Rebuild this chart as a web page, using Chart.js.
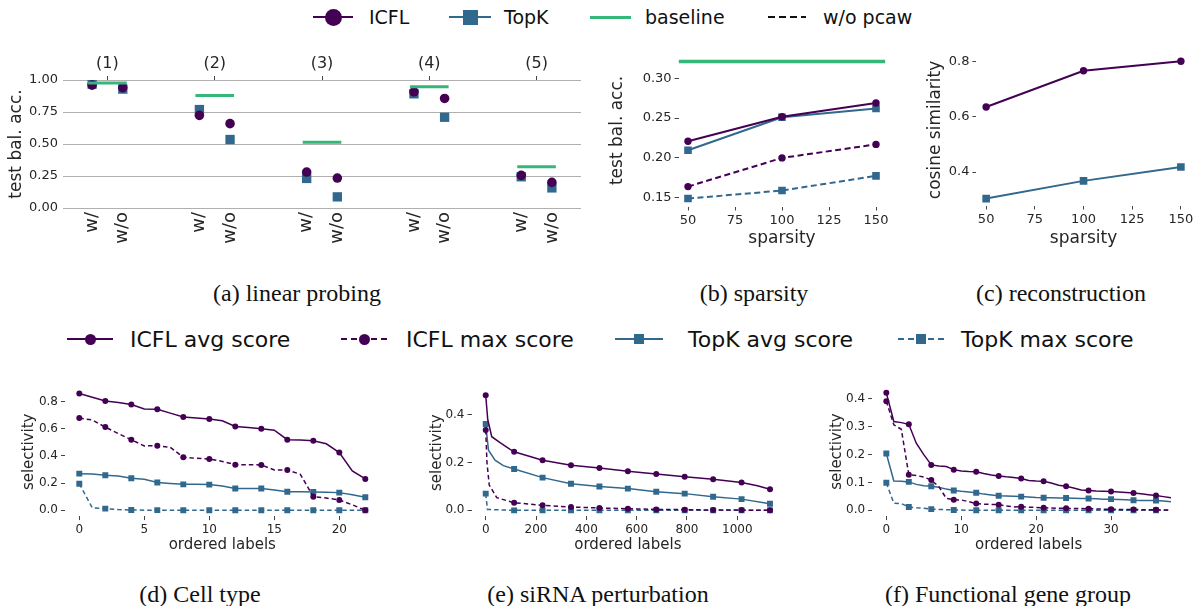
<!DOCTYPE html>
<html>
<head>
<meta charset="utf-8">
<script src="https://cdn.jsdelivr.net/npm/chart.js@4.4.1/dist/chart.umd.min.js"></script>
<style>
  body { margin: 0; background: #fff; width: 1196px; height: 606px; position: relative; overflow: hidden; font-family: "DejaVu Sans", sans-serif; color: #262626; }
  canvas { position: absolute; }
  .cap { position: absolute; font-family: "Liberation Serif", "Times New Roman", serif; font-size: 24px; color: #111; transform: translate(-50%, -50%); white-space: nowrap; }
  .lgtext { position: absolute; white-space: nowrap; transform: translateY(-50%); color: #111; }
  .lgline { position: absolute; }
  .lgmark { position: absolute; }
</style>
</head>
<body>
<canvas id="probeChart" width="600" height="220" style="left:0px;top:45px"></canvas>
<canvas id="sparsityChart" width="300" height="210" style="left:600px;top:40px"></canvas>
<canvas id="reconChart" width="296" height="210" style="left:900px;top:40px"></canvas>
<canvas id="cellChart" width="400" height="185" style="left:0px;top:375px"></canvas>
<canvas id="sirnaChart" width="400" height="185" style="left:400px;top:375px"></canvas>
<canvas id="geneChart" width="396" height="185" style="left:800px;top:375px"></canvas>

<div class="cap" style="left:297px;top:293px">(a) linear probing</div>
<div class="cap" style="left:754px;top:293px">(b) sparsity</div>
<div class="cap" style="left:1061px;top:293px">(c) reconstruction</div>
<div class="cap" style="left:200px;top:594px">(d) Cell type</div>
<div class="cap" style="left:598px;top:594px">(e) siRNA perturbation</div>
<div class="cap" style="left:1008px;top:594px">(f) Functional gene group</div>

<script>
const PURPLE = "#440154";
const BLUE = "#31688e";
const GREEN = "#35b779";
const TICK = "#262626";

// (a) linear probing
const probeGroups = ["(1)", "(2)", "(3)", "(4)", "(5)"];
const probeConds = ["w/", "w/o"];
const icflWith = [0.96, 0.724, 0.281, 0.908, 0.255];
const icflWithout = [0.94, 0.659, 0.234, 0.856, 0.2];
const topkWith = [0.968, 0.769, 0.231, 0.892, 0.244];
const topkWithout = [0.929, 0.535, 0.087, 0.709, 0.157];
const probeBaseline = [0.976, 0.879, 0.514, 0.947, 0.323];
const probeTicksY = [0, 0.25, 0.5, 0.75, 1.0];

// (b) sparsity
const sparsity = [50, 100, 150];
const sparsityTicks = [50, 75, 100, 125, 150];
const icflSparsity = [0.221, 0.2517, 0.269];
const topkSparsity = [0.2096, 0.251, 0.262];
const icflSparsityNoPcaw = [0.164, 0.2, 0.217];
const topkSparsityNoPcaw = [0.149, 0.159, 0.1775];
const sparsityBaseline = 0.321;
const sparsityTicksY = [0.15, 0.2, 0.25, 0.3];

// (c) reconstruction
const icflCosine = [0.635, 0.766, 0.8];
const topkCosine = [0.304, 0.368, 0.418];
const cosineTicksY = [0.4, 0.6, 0.8];

// (d) cell type, one value per ordered label 0..22
const cellIcflAvg = [0.861, 0.833, 0.805, 0.795, 0.78, 0.746, 0.744, 0.716, 0.687, 0.68, 0.672, 0.66, 0.618, 0.61, 0.601, 0.59, 0.52, 0.517, 0.513, 0.49, 0.425, 0.29, 0.231];
const cellIcflMax = [0.68, 0.665, 0.613, 0.565, 0.52, 0.474, 0.476, 0.464, 0.39, 0.383, 0.378, 0.36, 0.336, 0.336, 0.334, 0.297, 0.297, 0.265, 0.1, 0.09, 0.076, 0.04, 0.0];
const cellTopkAvg = [0.27, 0.268, 0.258, 0.252, 0.236, 0.228, 0.204, 0.198, 0.191, 0.191, 0.189, 0.178, 0.16, 0.16, 0.16, 0.15, 0.137, 0.137, 0.135, 0.133, 0.13, 0.115, 0.096];
const cellTopkMax = [0.196, 0.017, 0.012, 0.005, 0.002, 0.001, 0.001, 0.0, 0.0, 0.0, 0.0, 0.0, 0.0, 0.0, 0.0, 0.0, 0.0, 0.0, 0.0, 0.0, 0.0, 0.0, 0.0];
const cellTicksX = [0, 5, 10, 15, 20];
const cellTicksY = [0, 0.2, 0.4, 0.6, 0.8];

// (e) siRNA perturbation, read at selected ordered labels
const sirnaIcflAvgX = [0, 8, 24, 57, 97, 113, 226, 339, 452, 565, 678, 791, 904, 1017, 1080, 1130];
const sirnaIcflAvg = [0.482, 0.38, 0.308, 0.283, 0.255, 0.245, 0.21, 0.189, 0.177, 0.164, 0.152, 0.141, 0.13, 0.117, 0.103, 0.088];
const sirnaIcflMaxX = [0, 5, 14, 44, 113, 226, 339, 452, 565, 678, 791, 904, 1017, 1130];
const sirnaIcflMax = [0.336, 0.2, 0.106, 0.053, 0.032, 0.021, 0.014, 0.01, 0.007, 0.004, 0.003, 0.0015, 0.001, 0.0];
const sirnaTopkAvgX = [0, 4, 11, 37, 70, 113, 226, 339, 452, 565, 678, 791, 904, 1017, 1130];
const sirnaTopkAvg = [0.361, 0.32, 0.252, 0.21, 0.187, 0.173, 0.137, 0.111, 0.1, 0.091, 0.078, 0.07, 0.057, 0.047, 0.028];
const sirnaTopkMaxX = [0, 7, 113, 226, 339, 452, 565, 678, 791, 904, 1017, 1130];
const sirnaTopkMax = [0.07, 0.004, 0.0, 0.0, 0.0, 0.0, 0.0, 0.0, 0.0, 0.0, 0.0, 0.0];
const sirnaTicksX = [0, 200, 400, 600, 800, 1000];
const sirnaTicksY = [0, 0.2, 0.4];

// (f) functional gene group, one value per ordered label 0..38
const geneIcflAvg = [0.422, 0.319, 0.315, 0.309, 0.241, 0.2, 0.163, 0.159, 0.157, 0.146, 0.141, 0.139, 0.138, 0.132, 0.127, 0.123, 0.12, 0.118, 0.114, 0.107, 0.105, 0.104, 0.098, 0.09, 0.086, 0.08, 0.073, 0.071, 0.069, 0.068, 0.067, 0.066, 0.064, 0.062, 0.059, 0.056, 0.053, 0.049, 0.045];
const geneIcflMax = [0.392, 0.307, 0.291, 0.128, 0.125, 0.119, 0.109, 0.085, 0.043, 0.038, 0.037, 0.031, 0.024, 0.022, 0.021, 0.02, 0.015, 0.012, 0.0125, 0.011, 0.01, 0.009, 0.008, 0.007, 0.007, 0.006, 0.006, 0.005, 0.005, 0.004, 0.004, 0.003, 0.003, 0.003, 0.002, 0.002, 0.002, 0.001, 0.001];
const geneTopkAvg = [0.204, 0.105, 0.104, 0.102, 0.093, 0.088, 0.086, 0.083, 0.076, 0.071, 0.068, 0.066, 0.063, 0.058, 0.055, 0.052, 0.051, 0.05, 0.049, 0.048, 0.046, 0.045, 0.045, 0.044, 0.044, 0.043, 0.042, 0.042, 0.041, 0.04, 0.04, 0.039, 0.038, 0.036, 0.035, 0.035, 0.035, 0.033, 0.031];
const geneTopkMax = [0.099, 0.025, 0.024, 0.012, 0.009, 0.007, 0.004, 0.003, 0.002, 0.001, 0.001, 0.0, 0.0, 0.0, 0.0, 0.0, 0.0, 0.0, 0.0, 0.0, 0.0, 0.0, 0.0, 0.0, 0.0, 0.0, 0.0, 0.0, 0.0, 0.0, 0.0, 0.0, 0.0, 0.0, 0.0, 0.0, 0.0, 0.0, 0.0];
const geneTicksX = [0, 10, 20, 30];
const geneTicksY = [0, 0.1, 0.2, 0.3, 0.4];

Chart.defaults.font.family = "'DejaVu Sans', sans-serif";
Chart.defaults.color = TICK;
Chart.defaults.animation = false;

const fixWidth = (w) => (scale) => { scale.width = w; };
const fixHeight = (h) => (scale) => { scale.height = h; };
const useTicks = (vals) => (scale) => { scale.ticks = vals.map((v) => ({ value: v })); };

const basePlugins = { legend: { display: false }, tooltip: { enabled: false } };

// axis with small outside tick marks and no spine, matplotlib-like
const tickAxis = (opts) => ({
  type: "linear",
  position: opts.position,
  min: opts.min,
  max: opts.max,
  afterBuildTicks: useTicks(opts.ticks),
  afterFit: opts.position === "left" ? fixWidth(opts.size) : fixHeight(opts.size),
  border: { display: false },
  grid: { drawOnChartArea: false, drawTicks: true, tickLength: 4, tickColor: "#444", tickWidth: 1 },
  ticks: {
    autoSkip: false,
    maxRotation: 0,
    padding: opts.pad ?? 2,
    font: { size: opts.fontSize },
    color: TICK,
    callback: opts.fmt,
  },
  title: {
    display: true,
    text: opts.title,
    color: TICK,
    font: { size: opts.titleSize },
    padding: opts.position === "left" ? { top: opts.titlePad } : { bottom: opts.titlePad },
  },
});

// ---------- (a) linear probing ----------
const GROUP_STEP = 3.5;
const probePoints = (vals, offset) => vals.map((v, i) => ({ x: GROUP_STEP * i + offset, y: v }));
const baselinePoints = [];
probeBaseline.forEach((v, i) => {
  baselinePoints.push({ x: GROUP_STEP * i - 0.13, y: v });
  baselinePoints.push({ x: GROUP_STEP * i + 1.13, y: v });
  baselinePoints.push({ x: GROUP_STEP * i + 1.2, y: null });
});
const condPositions = [];
const condLabels = [];
probeGroups.forEach((g, i) => {
  probeConds.forEach((c, j) => {
    condPositions.push(GROUP_STEP * i + j);
    condLabels.push(c);
  });
});
const groupPositions = probeGroups.map((g, i) => GROUP_STEP * i + 0.5);

new Chart(document.getElementById("probeChart"), {
  type: "scatter",
  data: {
    datasets: [
      { label: "baseline", data: baselinePoints, showLine: true, spanGaps: false, borderColor: GREEN, borderWidth: 3, pointRadius: 0, order: 0 },
      { label: "ICFL", data: [...probePoints(icflWith, 0), ...probePoints(icflWithout, 1)], backgroundColor: PURPLE, borderWidth: 0, pointStyle: "circle", pointRadius: 4.8, order: 1 },
      { label: "TopK", data: [...probePoints(topkWith, 0), ...probePoints(topkWithout, 1)], backgroundColor: BLUE, borderWidth: 0, pointStyle: "rect", pointRadius: 6.6, order: 2 },
    ],
  },
  options: {
    responsive: false,
    layout: { padding: { top: 0, right: 19, bottom: 0, left: 0 } },
    plugins: basePlugins,
    scales: {
      x: {
        type: "linear",
        position: "bottom",
        min: -0.95,
        max: 15.95,
        afterBuildTicks: useTicks(condPositions),
        afterFit: fixHeight(57),
        border: { display: false },
        grid: { display: false, drawTicks: false },
        ticks: { autoSkip: false, minRotation: 90, maxRotation: 90, padding: 4, font: { size: 18 }, color: TICK, callback: (v, i) => condLabels[i] },
      },
      x2: {
        type: "linear",
        axis: "x",
        position: "top",
        min: -0.95,
        max: 15.95,
        afterBuildTicks: useTicks(groupPositions),
        afterFit: fixHeight(35),
        border: { display: false },
        grid: { drawOnChartArea: false, drawTicks: true, tickLength: 4, tickColor: "#444" },
        ticks: { autoSkip: false, maxRotation: 0, padding: 3, font: { size: 16 }, color: TICK, callback: (v, i) => probeGroups[i] },
      },
      y: {
        type: "linear",
        position: "left",
        min: 0,
        max: 1,
        afterBuildTicks: useTicks(probeTicksY),
        afterFit: fixWidth(63),
        border: { display: false },
        grid: { color: "#b0b0b0", lineWidth: 1, drawTicks: false },
        ticks: { padding: 5, font: { size: 13 }, color: TICK, callback: (v) => v.toFixed(2) },
        title: { display: true, text: "test bal. acc.", color: TICK, font: { size: 17 }, padding: { top: 6 } },
      },
    },
  },
});

// ---------- (b) sparsity ----------
const lineSet = (label, xs, ys, color, style, dashed, r, width) => ({
  label,
  data: ys.map((v, i) => ({ x: xs[i], y: v })),
  showLine: true,
  borderColor: color,
  backgroundColor: color,
  borderWidth: width,
  borderDash: dashed ? [6, 3.5] : [],
  pointStyle: style,
  pointRadius: style === "rect" ? r * 1.45 : r,
  pointBorderWidth: 0,
});

new Chart(document.getElementById("sparsityChart"), {
  type: "scatter",
  data: {
    datasets: [
      { label: "baseline", data: [{ x: 45, y: sparsityBaseline }, { x: 155, y: sparsityBaseline }], showLine: true, borderColor: GREEN, borderWidth: 3.5, pointRadius: 0 },
      lineSet("ICFL", sparsity, icflSparsity, PURPLE, "circle", false, 3.7, 2),
      lineSet("TopK", sparsity, topkSparsity, BLUE, "rect", false, 3.7, 2),
      lineSet("ICFL w/o pcaw", sparsity, icflSparsityNoPcaw, PURPLE, "circle", true, 3.7, 2),
      lineSet("TopK w/o pcaw", sparsity, topkSparsityNoPcaw, BLUE, "rect", true, 3.7, 2),
    ],
  },
  options: {
    responsive: false,
    layout: { padding: { top: 14.4, right: 14.6, bottom: 0, left: 0 } },
    plugins: basePlugins,
    scales: {
      x: tickAxis({ position: "bottom", min: 45, max: 155, ticks: sparsityTicks, size: 43.5, fontSize: 13, fmt: (v) => String(v), title: "sparsity", titleSize: 17, titlePad: 1 }),
      y: tickAxis({ position: "left", min: 0.139, max: 0.33, ticks: sparsityTicksY, size: 78.6, fontSize: 13, pad: 3, fmt: (v) => v.toFixed(2), title: "test bal. acc.", titleSize: 17, titlePad: 7 }),
    },
  },
});

// ---------- (c) reconstruction ----------
new Chart(document.getElementById("reconChart"), {
  type: "scatter",
  data: {
    datasets: [
      lineSet("ICFL", sparsity, icflCosine, PURPLE, "circle", false, 3.7, 2),
      lineSet("TopK", sparsity, topkCosine, BLUE, "rect", false, 3.7, 2),
    ],
  },
  options: {
    responsive: false,
    layout: { padding: { top: 14.4, right: 4.7, bottom: 0, left: 0 } },
    plugins: basePlugins,
    scales: {
      x: tickAxis({ position: "bottom", min: 45, max: 155, ticks: sparsityTicks, size: 44.5, fontSize: 13, fmt: (v) => String(v), title: "sparsity", titleSize: 17, titlePad: 1 }),
      y: tickAxis({ position: "left", min: 0.279, max: 0.825, ticks: cosineTicksY, size: 76.4, fontSize: 13, pad: 3, fmt: (v) => v.toFixed(1), title: "cosine similarity", titleSize: 17, titlePad: 25 }),
    },
  },
});

// ---------- bottom row: selectivity ----------
const selectSet = (label, xs, ys, color, style, dashed, markEvery) => ({
  label,
  data: ys.map((v, i) => ({ x: xs[i], y: v })),
  showLine: true,
  borderColor: color,
  backgroundColor: color,
  borderWidth: 1.5,
  borderDash: dashed ? [4.5, 3] : [],
  pointStyle: style,
  pointRadius: (ctx) => (markEvery(xs[ctx.dataIndex]) ? (style === "rect" ? 4.2 : 3) : 0),
  pointBorderWidth: 0,
});

const indexOf = (arr) => arr.map((v, i) => i);

const selectivityChart = (id, cfg) =>
  new Chart(document.getElementById(id), {
    type: "scatter",
    data: { datasets: cfg.datasets },
    options: {
      responsive: false,
      layout: { padding: { top: cfg.padTop, right: cfg.padRight, bottom: 0, left: 0 } },
      plugins: basePlugins,
      scales: {
        x: tickAxis({ position: "bottom", min: cfg.xMin, max: cfg.xMax, ticks: cfg.xTicks, size: 43.9, fontSize: 12, pad: 3, fmt: (v) => String(v), title: "ordered labels", titleSize: 15, titlePad: 6 }),
        y: tickAxis({ position: "left", min: cfg.yMin, max: cfg.yMax, ticks: cfg.yTicks, size: cfg.yWidth, fontSize: 12, pad: 3, fmt: (v) => v.toFixed(1), title: "selectivity", titleSize: 15, titlePad: cfg.titlePad }),
      },
    },
  });

const even = (x) => x % 2 === 0;
selectivityChart("cellChart", {
  datasets: [
    selectSet("ICFL avg score", indexOf(cellIcflAvg), cellIcflAvg, PURPLE, "circle", false, even),
    selectSet("ICFL max score", indexOf(cellIcflMax), cellIcflMax, PURPLE, "circle", true, even),
    selectSet("TopK avg score", indexOf(cellTopkAvg), cellTopkAvg, BLUE, "rect", false, even),
    selectSet("TopK max score", indexOf(cellTopkMax), cellTopkMax, BLUE, "rect", true, even),
  ],
  xMin: -1.1, xMax: 23.1, xTicks: cellTicksX,
  yMin: -0.043, yMax: 0.904, yTicks: cellTicksY,
  yWidth: 65, padTop: 12.6, padRight: 20.4, titlePad: 20,
});

const every113 = (x) => x % 113 === 0;
selectivityChart("sirnaChart", {
  datasets: [
    selectSet("ICFL avg score", sirnaIcflAvgX, sirnaIcflAvg, PURPLE, "circle", false, every113),
    selectSet("ICFL max score", sirnaIcflMaxX, sirnaIcflMax, PURPLE, "circle", true, every113),
    selectSet("TopK avg score", sirnaTopkAvgX, sirnaTopkAvg, BLUE, "rect", false, every113),
    selectSet("TopK max score", sirnaTopkMaxX, sirnaTopkMax, BLUE, "rect", true, every113),
  ],
  xMin: -56.5, xMax: 1186.5, xTicks: sirnaTicksX,
  yMin: -0.024, yMax: 0.506, yTicks: sirnaTicksY,
  yWidth: 71.5, padTop: 14.4, padRight: 15.8, titlePad: 28,
});

const every3 = (x) => x % 3 === 0;
selectivityChart("geneChart", {
  datasets: [
    selectSet("ICFL avg score", indexOf(geneIcflAvg), geneIcflAvg, PURPLE, "circle", false, every3),
    selectSet("ICFL max score", indexOf(geneIcflMax), geneIcflMax, PURPLE, "circle", true, every3),
    selectSet("TopK avg score", indexOf(geneTopkAvg), geneTopkAvg, BLUE, "rect", false, every3),
    selectSet("TopK max score", indexOf(geneTopkMax), geneTopkMax, BLUE, "rect", true, every3),
  ],
  xMin: -1.9, xMax: 39.9, xTicks: geneTicksX,
  yMin: -0.021, yMax: 0.443, yTicks: geneTicksY,
  yWidth: 72.1, padTop: 12, padRight: 10.8, titlePad: 28,
});

// ---------- legends (html) ----------
const addLegendItem = (item) => {
  const line = document.createElement("div");
  line.className = "lgline";
  line.style.left = item.x0 + "px";
  line.style.width = item.x1 - item.x0 + "px";
  line.style.top = item.y - item.lw / 2 + "px";
  line.style.height = item.lw + "px";
  line.style.background = item.dash
    ? `repeating-linear-gradient(90deg, ${item.color} 0 ${item.dash[0]}px, transparent ${item.dash[0]}px ${item.dash[0] + item.dash[1]}px)`
    : item.color;
  document.body.appendChild(line);

  if (item.marker) {
    const mk = document.createElement("div");
    mk.className = "lgmark";
    const s = item.markerSize;
    mk.style.width = s + "px";
    mk.style.height = s + "px";
    mk.style.left = (item.x0 + item.x1) / 2 - s / 2 + "px";
    mk.style.top = item.y - s / 2 + "px";
    mk.style.background = item.color;
    if (item.marker === "circle") mk.style.borderRadius = "50%";
    document.body.appendChild(mk);
  }

  const t = document.createElement("div");
  t.className = "lgtext";
  t.style.left = item.tx + "px";
  t.style.top = item.y + "px";
  t.style.fontSize = item.fontSize + "px";
  t.textContent = item.text;
  document.body.appendChild(t);
};

const topLegend = [
  { text: "ICFL", color: PURPLE, marker: "circle", markerSize: 17, x0: 313, x1: 353, tx: 369 },
  { text: "TopK", color: BLUE, marker: "rect", markerSize: 15, x0: 449, x1: 491, tx: 504 },
  { text: "baseline", color: GREEN, marker: null, x0: 590, x1: 631, tx: 645 },
  { text: "w/o pcaw", color: "#111", marker: null, dash: [7, 4], x0: 768, x1: 806, tx: 823 },
];
topLegend.forEach((it) => addLegendItem({ ...it, y: 17, lw: it.text === "baseline" ? 3 : 2.5, fontSize: 19 }));

const midLegend = [
  { text: "ICFL avg score", color: PURPLE, marker: "circle", markerSize: 11, x0: 67, x1: 113, tx: 130 },
  { text: "ICFL max score", color: PURPLE, marker: "circle", markerSize: 11, dash: [6, 4], x0: 341, x1: 387, tx: 406 },
  { text: "TopK avg score", color: BLUE, marker: "rect", markerSize: 10, x0: 615, x1: 663, tx: 688 },
  { text: "TopK max score", color: BLUE, marker: "rect", markerSize: 10, dash: [6, 4], x0: 898, x1: 944, tx: 961 },
];
midLegend.forEach((it) => addLegendItem({ ...it, y: 339, lw: 2, fontSize: 22 }));
</script>
</body>
</html>
